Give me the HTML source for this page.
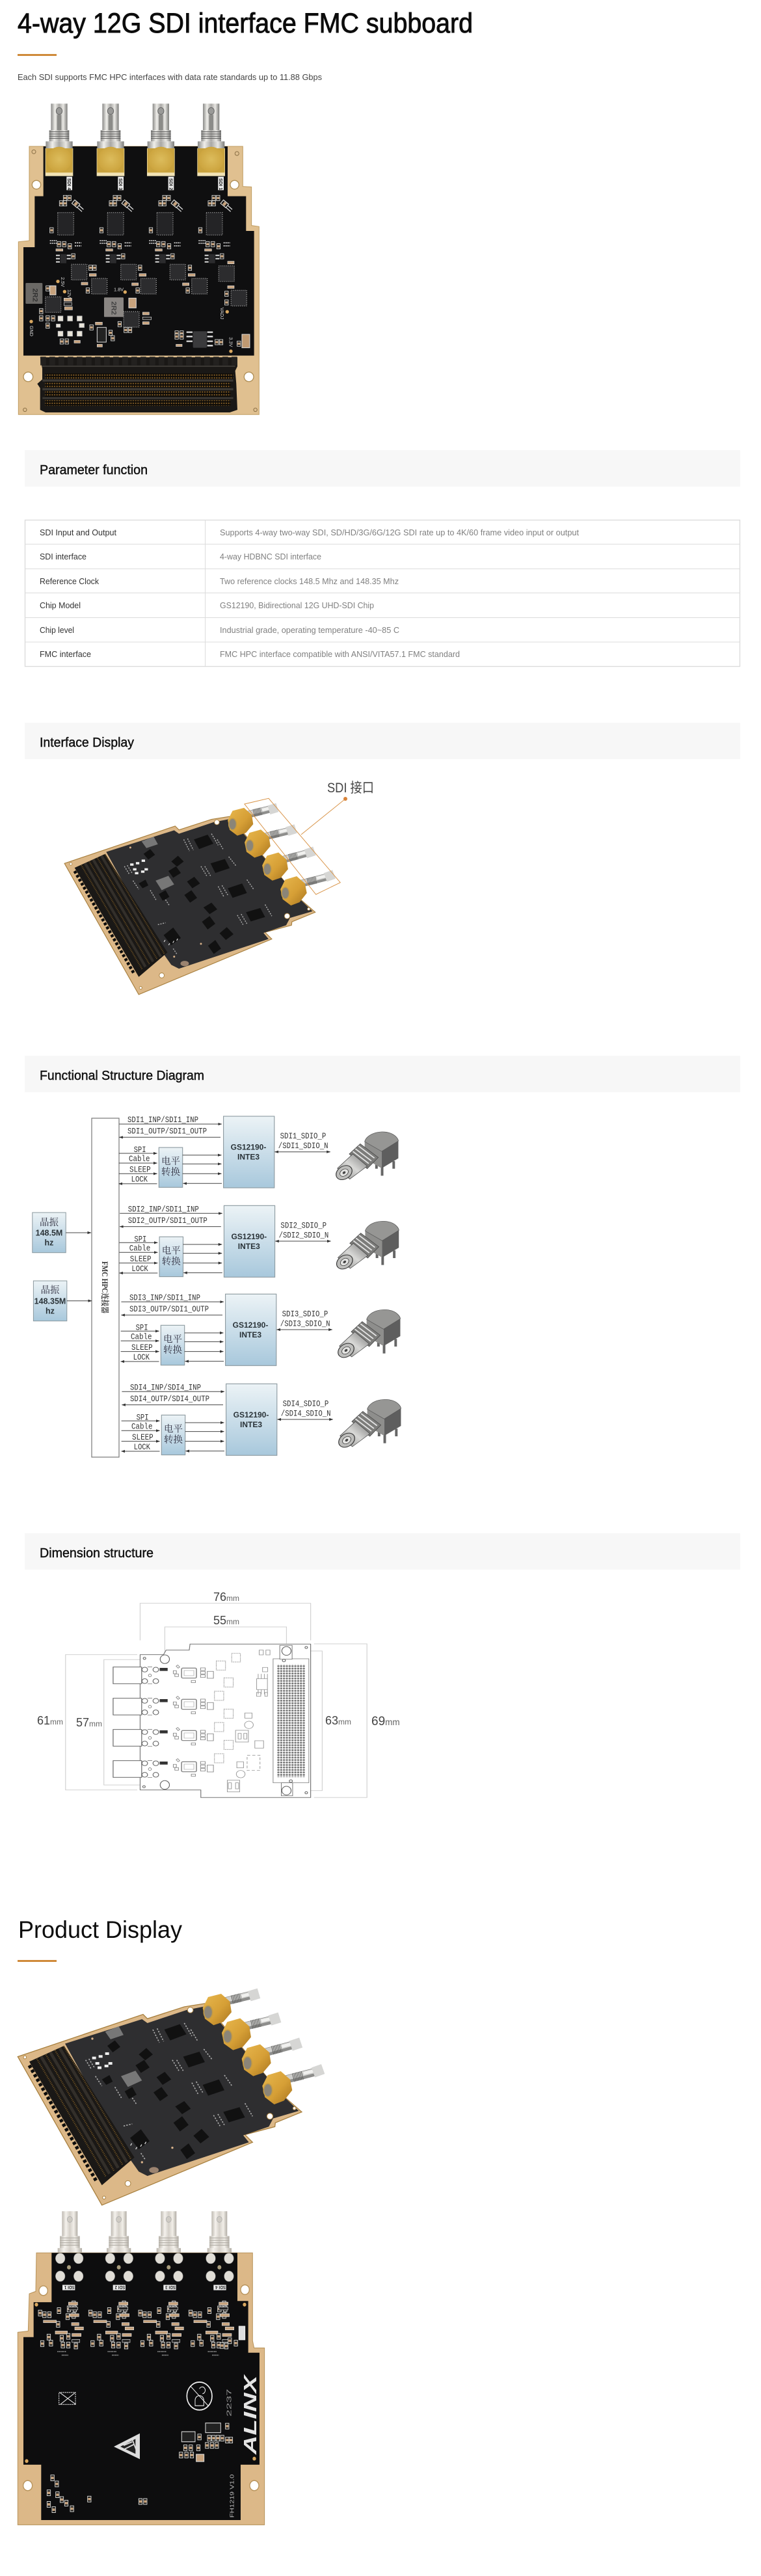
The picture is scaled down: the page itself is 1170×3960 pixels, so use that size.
<!DOCTYPE html>
<html lang="en">
<head>
<meta charset="utf-8">
<title>4-way 12G SDI interface FMC subboard</title>
<style>
html,body{margin:0;padding:0;background:#fff}
svg{display:block}
text{font-family:"Liberation Sans","Noto Sans CJK SC",sans-serif}
.h{font-size:20px;fill:#111;stroke:#111;stroke-width:.45px}
.k{font-size:13px;fill:#333}
.v{font-size:13px;fill:#808080}
.m{font-family:"Liberation Mono","Noto Sans CJK SC",monospace;font-size:13px;fill:#333}
.c{font-family:"Noto Serif CJK SC","Liberation Serif",serif;font-size:14.5px;fill:#334;text-anchor:middle}
.b{font-size:12px;font-weight:700;fill:#2a3338;text-anchor:middle}
.d{font-size:18px;fill:#444}
.d tspan{font-size:12px;fill:#666}
.s{fill:#eee;font-size:22px}
</style>
</head>
<body>
<svg xmlns="http://www.w3.org/2000/svg" width="1170" height="3960" viewBox="0 0 1170 3960">
<defs>
<linearGradient id="bar" x1="0" x2="1" y1="0" y2="0"><stop offset="0" stop-color="#8a8a88"/><stop offset=".25" stop-color="#efeeea"/><stop offset=".5" stop-color="#a9a8a5"/><stop offset=".75" stop-color="#e8e7e3"/><stop offset="1" stop-color="#7c7c7a"/></linearGradient>
<linearGradient id="bar2" x1="0" x2="1" y1="0" y2="0"><stop offset="0" stop-color="#bdb8b0"/><stop offset=".25" stop-color="#f5f2ed"/><stop offset=".5" stop-color="#d4cfc8"/><stop offset=".75" stop-color="#f2efe9"/><stop offset="1" stop-color="#b2ada5"/></linearGradient>
<linearGradient id="bg" x1="0" x2="1" y1="1" y2="0"><stop offset="0" stop-color="#8c8c8a"/><stop offset=".5" stop-color="#d8d8d6"/><stop offset="1" stop-color="#777"/></linearGradient>
<linearGradient id="blue" x1="0" x2="0" y1="0" y2="1"><stop offset="0" stop-color="#ecf3f6"/><stop offset="1" stop-color="#a8c8dc"/></linearGradient>
<radialGradient id="gold"><stop offset="0" stop-color="#dcbc5c"/><stop offset="1" stop-color="#cda53f"/></radialGradient>
<linearGradient id="nut" x1="0" x2="1" y1="0" y2="1"><stop offset="0" stop-color="#e8b84e"/><stop offset=".55" stop-color="#d69f36"/><stop offset="1" stop-color="#a8751f"/></linearGradient>
<pattern id="pins" width="11" height="13" patternUnits="userSpaceOnUse"><rect width="11" height="13" fill="#100d09"/><circle cx="5" cy="6" r="3" fill="#94692a"/></pattern>
<pattern id="teeth" width="42" height="40" patternUnits="userSpaceOnUse"><rect x="0" y="0" width="26" height="40" fill="#242220"/></pattern>
<pattern id="dots" width="11" height="11.4" patternUnits="userSpaceOnUse"><ellipse cx="5.5" cy="5.7" rx="4.4" ry="4.2" fill="#777"/></pattern>
<marker id="ar" markerWidth="6" markerHeight="5" refX="5.5" refY="2.5" orient="auto-start-reverse" markerUnits="userSpaceOnUse"><path d="M0,0.4L6,2.5L0,4.6z" fill="#333"/></marker>

<g id="p"><rect x="-8" y="-12" width="16" height="24" fill="#1a1a1a" stroke="#e4e4e0" stroke-width="2.5"/><rect x="-6" y="-5" width="12" height="10" fill="#c7a27c"/></g>
<g id="q"><rect x="-36" y="-36" width="72" height="72" rx="3" fill="#2c2c2e"/><rect x="-36" y="-36" width="72" height="72" fill="none" stroke="#aaa" stroke-width="4" stroke-dasharray="3 6"/></g>
<g id="tq"><rect x="-37" y="-52" width="74" height="104" rx="3" fill="#242426"/><rect x="-37" y="-52" width="74" height="104" fill="none" stroke="#aaa" stroke-width="4" stroke-dasharray="3 6"/></g>

<g id="tc">
<use href="#p" x="222" y="488"/><use href="#p" x="240" y="488"/><use href="#p" x="240" y="463"/><use href="#p" x="260" y="463"/>
<use href="#p" transform="translate(290,490) rotate(-50) scale(1.3)"/>
<path d="M305,498l20,18M298,508l20,18" stroke="#ddd" stroke-width="4"/>
<use href="#tq" x="243" y="582"/>
<use href="#p" x="178" y="612" transform="translate(0,0)"/>
<path d="M170,660h32M170,672h32M285,670h30M285,684h30" stroke="#ddd" stroke-width="5" stroke-dasharray="6 3"/>
<use href="#p" x="212" y="676"/><use href="#p" x="236" y="676"/><use href="#p" x="262" y="686"/>
<rect x="198" y="698" width="32" height="10" fill="#c7a27c" stroke="#ddd" stroke-width="2"/>
<rect x="218" y="722" width="28" height="42" fill="#2c2c2e"/>
<path d="M198,728h18M198,743h18M198,758h18M248,728h18M248,743h18" stroke="#ddd" stroke-width="6"/>
<use href="#p" x="278" y="732"/>
</g>

<g id="bcn">
<rect x="-38" y="28" width="76" height="125" fill="url(#bar)"/>
<ellipse cx="0" cy="62" rx="14" ry="16" fill="#9a9a98" stroke="#666" stroke-width="3"/>
<rect x="-10" y="80" width="20" height="70" fill="#8b8b88"/>
<rect x="-46" y="150" width="92" height="52" fill="url(#bar)"/>
<path d="M-46,158h92M-46,168h92M-46,178h92M-46,188h92" stroke="#555" stroke-width="3"/>
<rect x="-62" y="202" width="124" height="34" fill="url(#bar)"/>
<rect x="-64" y="234" width="128" height="128" fill="#f2e3b4"/>
<rect x="-62" y="234" width="124" height="112" fill="#c8a23e"/>
<circle cx="0" cy="285" r="58" fill="url(#gold)"/>
</g>

<g id="dch">
<rect x="364" y="728" width="111" height="77" fill="#fff" stroke="#666" stroke-width="3"/>
<g fill="#fff" stroke="#666" stroke-width="3"><circle cx="487" cy="740" r="11"/><circle cx="530" cy="740" r="11"/><circle cx="487" cy="793" r="11"/><circle cx="530" cy="793" r="11"/><circle cx="507" cy="767" r="6" stroke-width="2"/></g>
<path d="M498,728h18M498,805h18" stroke="#666" stroke-width="2"/>
<rect x="545" y="732" width="31" height="14" fill="#333"/>
<g fill="none" stroke="#888" stroke-width="2.5">
<rect x="630" y="733" width="58" height="46" rx="5" stroke-width="4"/><rect x="640" y="744" width="38" height="24" stroke="#bbb"/>
<rect x="598" y="745" width="12" height="14"/><rect x="604" y="760" width="14" height="12"/>
<rect x="612" y="720" width="8" height="12" transform="rotate(-40 616 726)"/>
<rect x="704" y="732" width="18" height="12"/><rect x="704" y="748" width="18" height="12"/><rect x="704" y="764" width="18" height="12"/>
<rect x="730" y="748" width="24" height="32"/>
<rect x="668" y="790" width="16" height="10"/>
</g>
</g>

<g id="dc">
<g fill="url(#blue)" stroke="#8a989e" stroke-width="1.1">
<rect x="343.6" y="1716" width="78.2" height="110"/>
<rect x="244.3" y="1764" width="36.4" height="61.3"/>
</g>
<g stroke="#444" stroke-width="1" fill="none">
<path d="M183.4,1728H340.8" marker-end="url(#ar)"/>
<path d="M339,1748.3H183.4" marker-end="url(#ar)"/>
<path d="M182.6,1773H241.5" marker-end="url(#ar)"/>
<path d="M182.6,1788H241.5" marker-end="url(#ar)"/>
<path d="M182.6,1804.3H241.5" marker-end="url(#ar)"/>
<path d="M241.5,1819.7H182.6" marker-end="url(#ar)"/>
<path d="M280.7,1775.7H340.4" marker-end="url(#ar)"/>
<path d="M280.7,1789.3H340.4" marker-end="url(#ar)"/>
<path d="M280.7,1804.3H340.4" marker-end="url(#ar)"/>
<path d="M341,1819.3H281.5" marker-end="url(#ar)"/>
<path d="M422.5,1770.7H507.7" marker-start="url(#ar)" marker-end="url(#ar)"/>
</g>
<g transform="translate(30,1620) scale(.3954,.3333)">
<path d="M1410,520V562M1455,495V530M1388,495V530" stroke="#666" stroke-width="10"/>
<polygon points="1342,405 1408,450 1408,528 1342,482" fill="#8e8e8c"/>
<polygon points="1408,450 1473,402 1473,482 1408,528" fill="#5e5e5e"/>
<path d="M1342,405C1350,370 1400,350 1440,365C1465,375 1473,395 1473,402L1408,450z" fill="#969694" stroke="#555" stroke-width="2"/>
<polygon points="1325,415 1395,478 1352,530 1282,462" fill="#7c7c7a" stroke="#444" stroke-width="2"/>
<path d="M1318,425l62,56M1306,438l62,56M1296,450l62,56" stroke="#e4e4e4" stroke-width="5"/>
<polygon points="1296,462 1352,518 1284,578 1236,528" fill="url(#bg)" stroke="#444" stroke-width="2"/>
<ellipse cx="1262" cy="548" rx="27" ry="36" transform="rotate(40 1262 548)" fill="#bdbdbb" stroke="#333" stroke-width="3"/>
<ellipse cx="1262" cy="548" rx="14" ry="19" transform="rotate(40 1262 548)" fill="#e4e4e2" stroke="#333" stroke-width="2"/>
<ellipse cx="1262" cy="548" rx="5" ry="7" transform="rotate(40 1262 548)" fill="#444"/>
</g>
</g>

<g id="iso">
<polygon points="82,845 660,650 680,670 850,615 945,600 1300,1020 1392,1100 1270,1150 1268,1168 1130,1205 1165,1240 470,1530" fill="#dcb888" stroke="#a8803f" stroke-width="4"/>
<polygon points="300,785 655,672 680,690 860,630 950,612 1310,1030 1378,1095 1260,1130 1240,1168 1122,1208 1148,1240 680,1395 640,1375 580,1290" fill="#2e2e30"/>
<polygon points="135,868 295,795 620,1310 470,1438" fill="#1a1816"/>
<g fill="none" stroke-linecap="butt">
<path d="M190,845L505,1385M232,825L545,1358M275,805L585,1332" stroke="#332f2a" stroke-width="14"/>
<path d="M170,855L488,1398M212,836L526,1372M254,816L566,1345M294,797L604,1318" stroke="#7a5a26" stroke-width="7" stroke-dasharray="3 5"/>
<path d="M135,885L445,1420" stroke="#0c0c0c" stroke-width="16" stroke-dasharray="14 10"/>
</g>
<g fill="#111">
<polygon id="i1" points="758,720 830,695 860,742 785,770"/>
<polygon points="845,845 920,822 945,870 870,895"/>
<polygon points="935,975 1010,950 1035,1000 960,1025"/>
<polygon points="1030,1100 1105,1078 1130,1125 1055,1148"/>
<polygon points="640,835 675,805 705,835 670,862"/>
<polygon points="625,885 665,860 690,895 650,920"/>
<polygon points="722,940 760,915 790,950 750,975"/>
<polygon points="708,1010 745,985 775,1025 738,1050"/>
<polygon points="808,1075 850,1050 880,1085 840,1110"/>
<polygon points="800,1150 840,1120 870,1160 830,1190"/>
<polygon points="892,1210 930,1178 965,1215 925,1245"/>
<polygon points="832,1275 870,1245 900,1290 862,1318"/>
<polygon points="600,1220 650,1180 690,1235 640,1272"/>
<polygon points="495,795 530,770 555,800 520,825"/>
<polygon points="575,1005 610,985 630,1020 595,1040"/>
<polygon points="470,950 505,930 520,960 490,975"/>
</g>
<polygon points="485,730 548,705 570,745 510,765" fill="#777"/>
<polygon points="558,935 625,910 655,955 590,985" fill="#777"/>
<g fill="none" stroke="#aaa" stroke-width="5" stroke-dasharray="7 6">
<path d="M705,720l30,60M725,715l30,60M850,690l35,60M880,720l30,50"/>
<path d="M795,860l30,50M815,860l30,50M940,810l40,50"/>
<path d="M885,965l30,55M905,960l30,50M1035,930l35,50"/>
<path d="M985,1115l30,50M1005,1110l30,50M1130,1060l35,60"/>
<path d="M395,860l25,40M410,855l25,40M440,935l30,45M530,985l30,50M610,1035l20,30M570,1165l40,-10M650,1290l20,30"/>
</g>
<g fill="#eee"><rect x="425" y="845" width="18" height="12"/><rect x="455" y="838" width="18" height="12"/><rect x="485" y="825" width="18" height="12"/><rect x="440" y="870" width="18" height="12"/><rect x="500" y="870" width="18" height="12"/><rect x="450" y="890" width="18" height="12"/><rect x="482" y="882" width="18" height="12"/></g>
<g stroke="#ddd" stroke-width="4"><path d="M608,1245l-6,10M632,1262l-6,10M654,1250l-6,10M674,1238l-6,10"/></g>
<ellipse cx="710" cy="1368" rx="22" ry="14" fill="#9c8470"/>
<g fill="#d9b28a"><circle cx="426" cy="762" r="5"/><circle cx="795" cy="1265" r="5"/><circle cx="655" cy="1332" r="5"/></g>
<g fill="#fff" stroke="#a8803f" stroke-width="3"><circle cx="878" cy="630" r="13"/><circle cx="1245" cy="1120" r="14"/><circle cx="590" cy="1430" r="13"/><circle cx="115" cy="848" r="7"/><circle cx="480" cy="1495" r="7"/><circle cx="1358" cy="1083" r="7"/></g>
<g fill="none" stroke-linecap="butt">
<path d="M1040,590L1178,556M1130,705L1274,670M1225,825L1372,785M1320,950L1475,910" stroke="#8e8e8c" stroke-width="38"/>
<path d="M1040,584L1178,550M1130,699L1274,664M1225,819L1372,779M1320,944L1475,904" stroke="#cfcfcd" stroke-width="22"/>
<path d="M1115,566L1178,550M1205,680L1274,664M1300,798L1372,779M1400,922L1475,904" stroke="#f1f1ef" stroke-width="14"/>
<path d="M1070,582L1112,572M1160,697L1202,687M1256,816L1298,805M1352,942L1396,931" stroke="#5c5c5a" stroke-width="40" stroke-dasharray="3 4"/>
<path d="M1150,566L1194,553M1245,678L1290,664M1342,795L1388,780M1445,918L1490,902" stroke="#d6d6d4" stroke-width="48"/>
</g>
<g fill="url(#nut)">
<polygon points="935,620 960,570 1020,555 1060,590 1068,640 1030,685 985,700 945,670"/>
<polygon points="1023,735 1048,685 1108,668 1150,705 1158,755 1120,800 1075,815 1033,785"/>
<polygon points="1115,855 1140,805 1200,788 1242,825 1250,875 1212,920 1168,935 1126,905"/>
<polygon points="1210,980 1235,930 1295,912 1338,950 1348,1000 1310,1048 1265,1065 1222,1032"/>
</g>
<g fill="#8b8578" stroke="#c49b45" stroke-width="5">
<ellipse cx="960" cy="640" rx="20" ry="30"/><ellipse cx="1050" cy="752" rx="20" ry="30"/><ellipse cx="1142" cy="875" rx="20" ry="30"/><ellipse cx="1236" cy="1000" rx="20" ry="30"/>
</g>
</g>

<g id="bc">
<use href="#p" x="340" y="437" transform="translate(0,0)"/><use href="#p" x="318" y="458"/><use href="#p" x="345" y="458"/><use href="#p" x="340" y="485"/>
<rect x="316" y="430" width="42" height="12" fill="#c7a27c" stroke="#ddd" stroke-width="2"/>
<rect x="316" y="450" width="42" height="12" fill="#222" stroke="#ddd" stroke-width="2"/>
<rect x="322" y="478" width="42" height="12" fill="#c7a27c" stroke="#ddd" stroke-width="2"/>
<use href="#p" x="272" y="465"/><use href="#p" x="228" y="482"/><use href="#p" x="205" y="482"/><use href="#p" x="185" y="475"/>
<rect x="200" y="505" width="60" height="10" fill="#c7a27c" stroke="#ddd" stroke-width="2"/>
<use href="#p" x="312" y="490"/><use href="#p" x="268" y="522"/>
<rect x="330" y="515" width="34" height="12" fill="#c7a27c" stroke="#ddd" stroke-width="2"/>
<rect x="345" y="533" width="40" height="12" fill="#c7a27c" stroke="#ddd" stroke-width="2"/>
<rect x="255" y="550" width="56" height="12" fill="#c7a27c" stroke="#ddd" stroke-width="2"/>
<use href="#p" x="225" y="575"/><use href="#p" x="235" y="600"/><use href="#p" x="315" y="572"/><use href="#p" x="285" y="580"/>
<rect x="332" y="560" width="42" height="12" fill="#c7a27c" stroke="#ddd" stroke-width="2"/>
<rect x="332" y="585" width="36" height="12" fill="#222" stroke="#ddd" stroke-width="2"/>
<use href="#p" x="350" y="612"/><use href="#p" x="290" y="608"/><use href="#p" x="315" y="608"/><use href="#p" x="195" y="602"/>
<path d="M265,635h40M285,650h30" stroke="#bbb" stroke-width="4" stroke-dasharray="4 3"/>
</g>
<g id="bn">
<rect x="-36" y="52" width="72" height="105" fill="url(#bar2)"/>
<circle cx="0" cy="86" r="12" fill="#cfcbc4" stroke="#aaa" stroke-width="2"/>
<rect x="-46" y="155" width="92" height="50" fill="url(#bar2)"/>
<path d="M-46,163h92M-46,173h92M-46,183h92M-46,193h92" stroke="#b0aca4" stroke-width="3"/>
<rect x="-56" y="205" width="112" height="18" fill="url(#bar2)"/>
</g>
<g id="bp"><g fill="#e0ddd6" stroke="#888" stroke-width="1.5"><ellipse cx="-44" cy="248" rx="22" ry="22"/><ellipse cx="40" cy="248" rx="22" ry="22"/><ellipse cx="-44" cy="322" rx="22" ry="22"/><ellipse cx="40" cy="322" rx="22" ry="22"/></g><ellipse cx="-4" cy="285" rx="9" ry="9" fill="#a89c7c"/></g>
</defs>

<rect width="1170" height="3960" fill="#fff"/>

<!-- Header -->
<text x="27" y="50" font-size="42.5" fill="#0c0c0c" stroke="#0c0c0c" stroke-width=".9" textLength="700" lengthAdjust="spacingAndGlyphs">4-way 12G SDI interface FMC subboard</text>
<rect x="27" y="83" width="60" height="3" fill="#cf8a3a"/>
<text x="27" y="123" font-size="13" fill="#444" textLength="468" lengthAdjust="spacingAndGlyphs">Each SDI supports FMC HPC interfaces with data rate standards up to 11.88 Gbps</text>

<!-- Top board -->
<g transform="translate(20,150) scale(.3333)">
<polygon points="75,225 1060,225 1060,410 1100,412 1100,590 1135,595 1135,1462 25,1462 25,665 75,660" fill="#e0c090" stroke="#c09d62" stroke-width="3"/>
<polygon points="140,225 990,225 990,455 1075,455 1075,615 1112,615 1112,1190 48,1190 48,690 100,690 100,455 140,455" fill="#0f0f10"/>
<g fill="#fff" stroke="#b08f55" stroke-width="4"><circle cx="108" cy="402" r="20"/><circle cx="1022" cy="402" r="20"/><circle cx="70" cy="1288" r="22"/><circle cx="1088" cy="1288" r="22"/></g>
<g fill="none" stroke="#8a6f45" stroke-width="3"><circle cx="96" cy="250" r="9"/><circle cx="1033" cy="258" r="9"/><circle cx="55" cy="1440" r="8"/><circle cx="1118" cy="1440" r="8"/></g>
<use href="#bcn" x="213"/><use href="#bcn" x="450"/><use href="#bcn" x="682"/><use href="#bcn" x="914"/>
<g><rect x="247" y="365" width="26" height="62" fill="#eee"/><rect x="484" y="365" width="26" height="62" fill="#eee"/><rect x="716" y="365" width="26" height="62" fill="#eee"/><rect x="946" y="365" width="26" height="62" fill="#eee"/></g>
<g font-size="22" font-weight="700" fill="#111"><text transform="translate(252,372) rotate(90)">SDI 4</text><text transform="translate(489,372) rotate(90)">SDI 3</text><text transform="translate(721,372) rotate(90)">SDI 2</text><text transform="translate(951,372) rotate(90)">SDI 1</text></g>
<use href="#tc"/><use href="#tc" x="230"/><use href="#tc" x="458"/><use href="#tc" x="686"/>
<use href="#q" x="305" y="805"/><use href="#q" x="533" y="805"/><use href="#q" x="760" y="805"/><use href="#q" x="985" y="812"/>
<use href="#q" x="398" y="870"/><use href="#q" x="625" y="870"/><use href="#q" x="860" y="870"/><use href="#q" x="1042" y="925"/>
<use href="#q" x="185" y="955"/><use href="#q" x="546" y="1023"/>
<use href="#p" x="358" y="785"/><use href="#p" x="376" y="785"/><use href="#p" x="586" y="785"/><use href="#p" x="816" y="785"/>
<rect x="352" y="812" width="32" height="12" fill="#c7a27c" stroke="#ddd" stroke-width="2"/><rect x="582" y="812" width="32" height="12" fill="#c7a27c" stroke="#ddd" stroke-width="2"/><rect x="808" y="812" width="32" height="12" fill="#c7a27c" stroke="#ddd" stroke-width="2"/>
<rect x="315" y="852" width="30" height="12" fill="#c7a27c" stroke="#ddd" stroke-width="2"/><rect x="548" y="855" width="30" height="12" fill="#c7a27c" stroke="#ddd" stroke-width="2"/><rect x="782" y="855" width="30" height="12" fill="#c7a27c" stroke="#ddd" stroke-width="2"/>
<use href="#p" x="345" y="890"/><use href="#p" x="575" y="890"/><use href="#p" x="806" y="890"/><use href="#p" x="985" y="905"/><use href="#p" x="985" y="945"/>
<rect x="990" y="755" width="30" height="12" fill="#c7a27c" stroke="#ddd" stroke-width="2"/><rect x="990" y="868" width="30" height="12" fill="#c7a27c" stroke="#ddd" stroke-width="2"/>
<rect x="58" y="855" width="78" height="96" rx="4" fill="#6b6966"/><rect x="420" y="922" width="90" height="90" rx="4" fill="#8a8683"/>
<text transform="translate(92,880) rotate(90)" font-size="34" font-weight="700" fill="#333">2R2</text>
<text transform="translate(455,940) rotate(90)" font-size="34" font-weight="700" fill="#444">2R2</text>
<use href="#p" x="160" y="880"/><rect x="170" y="868" width="28" height="42" fill="#c7a27c" stroke="#ddd" stroke-width="3"/>
<rect x="534" y="925" width="34" height="45" fill="#c7a27c" stroke="#ddd" stroke-width="3"/>
<rect x="235" y="925" width="36" height="14" fill="#c7a27c" stroke="#ddd" stroke-width="2"/><rect x="235" y="945" width="36" height="14" fill="#222" stroke="#ddd" stroke-width="2"/><rect x="238" y="965" width="36" height="14" fill="#c7a27c" stroke="#ddd" stroke-width="2"/>
<use href="#p" x="130" y="985"/><use href="#p" x="130" y="1018"/><use href="#p" x="160" y="1018"/><use href="#p" x="185" y="1018"/><use href="#p" x="160" y="1052"/>
<g fill="#e9e4d8" stroke="#ccc" stroke-width="3"><rect x="208" y="1008" width="22" height="22"/><rect x="252" y="1008" width="22" height="22"/><rect x="296" y="1008" width="22" height="22"/><rect x="306" y="1042" width="22" height="18"/><rect x="208" y="1078" width="22" height="22"/><rect x="252" y="1078" width="22" height="22"/><rect x="296" y="1078" width="22" height="22"/><rect x="200" y="1045" width="18" height="14"/></g>
<use href="#p" x="225" y="1125"/><use href="#p" x="248" y="1125"/><rect x="282" y="1120" width="28" height="12" fill="#c7a27c" stroke="#ddd" stroke-width="2"/>
<rect x="388" y="1060" width="42" height="68" fill="#222" stroke="#ddd" stroke-width="3"/>
<rect x="380" y="1036" width="32" height="12" fill="#c7a27c" stroke="#ddd" stroke-width="2"/><rect x="388" y="1138" width="24" height="12" fill="#c7a27c" stroke="#ddd" stroke-width="2"/>
<use href="#p" x="450" y="1085"/><use href="#p" x="460" y="1110"/><use href="#p" x="362" y="1060"/>
<use href="#p" x="492" y="1045"/><use href="#p" x="520" y="1072"/><use href="#p" x="540" y="1072"/>
<rect x="598" y="990" width="30" height="12" fill="#c7a27c" stroke="#ddd" stroke-width="2"/><rect x="598" y="1012" width="40" height="12" fill="#222" stroke="#ddd" stroke-width="2"/><rect x="598" y="1034" width="30" height="12" fill="#c7a27c" stroke="#ddd" stroke-width="2"/>
<rect x="830" y="1078" width="64" height="76" rx="4" fill="#3a3a3c"/>
<path d="M800,1082h28M800,1102h28M800,1124h28M896,1082h26M896,1102h26M896,1124h26M896,1144h26" stroke="#ddd" stroke-width="7"/>
<use href="#p" x="755" y="1088"/><use href="#p" x="778" y="1088"/><use href="#p" x="755" y="1102"/><use href="#p" x="778" y="1102"/>
<rect x="752" y="1138" width="28" height="10" fill="#c7a27c" stroke="#ddd" stroke-width="2"/>
<use href="#p" x="940" y="1128"/><use href="#p" x="960" y="1128"/>
<use href="#p" x="1042" y="1135"/><rect x="1056" y="1092" width="36" height="62" fill="#c09a72" stroke="#ddd" stroke-width="3"/>
<g fill="#d9a860"><circle cx="207" cy="848" r="8"/><circle cx="238" cy="895" r="8"/><circle cx="517" cy="897" r="8"/><circle cx="988" cy="988" r="8"/><circle cx="84" cy="1033" r="8"/><circle cx="1005" cy="1170" r="8"/></g>
<g font-size="22" fill="#ddd"><text x="465" y="893">1.8V</text><text transform="translate(222,828) rotate(90)">2.5V</text><text transform="translate(252,885) rotate(90)">12V</text><text transform="translate(957,968) rotate(90)">VADJ</text><text transform="translate(78,1052) rotate(90)">GND</text><text transform="translate(998,1105) rotate(90)">3.3V</text></g>
<!-- FMC connector -->
<polygon points="125,1198 1035,1198 1035,1240 1025,1260 1030,1320 1035,1440 1000,1452 150,1452 125,1440 125,1340 112,1320 135,1300 135,1250" fill="#1a1816"/>
<rect x="125" y="1195" width="910" height="40" fill="url(#teeth)" opacity=".9"/>
<rect x="135" y="1236" width="890" height="6" fill="#3c3935"/>
<rect x="148" y="1272" width="868" height="26" fill="url(#pins)"/>
<rect x="136" y="1300" width="880" height="10" fill="#3c3935"/>
<rect x="148" y="1312" width="856" height="26" fill="url(#pins)"/>
<rect x="136" y="1340" width="880" height="10" fill="#3c3935"/>
<rect x="148" y="1354" width="856" height="26" fill="url(#pins)"/>
<rect x="136" y="1382" width="880" height="8" fill="#3c3935"/>
<rect x="148" y="1396" width="856" height="26" fill="url(#pins)"/>
</g>

<!-- Parameter function -->
<rect x="38" y="692" width="1100" height="56" fill="#f7f7f7"/>
<text class="h" x="61" y="729" textLength="166" lengthAdjust="spacingAndGlyphs">Parameter function</text>
<g fill="none" stroke="#dcdcdc">
<rect x="38.5" y="799.5" width="1099" height="225" stroke-width="1.4"/>
<path d="M38,836.5H1138M38,874.5H1138M38,911.5H1138M38,949.5H1138M38,987H1138M315.5,799V1024"/>
</g>
<text class="k" x="61" y="823" textLength="118" lengthAdjust="spacingAndGlyphs">SDI Input and Output</text>
<text class="v" x="338" y="823" textLength="552" lengthAdjust="spacingAndGlyphs">Supports 4-way two-way SDI, SD/HD/3G/6G/12G SDI rate up to 4K/60 frame video input or output</text>
<text class="k" x="61" y="860" textLength="72" lengthAdjust="spacingAndGlyphs">SDI interface</text>
<text class="v" x="338" y="860" textLength="156" lengthAdjust="spacingAndGlyphs">4-way HDBNC SDI interface</text>
<text class="k" x="61" y="898" textLength="91" lengthAdjust="spacingAndGlyphs">Reference Clock</text>
<text class="v" x="338" y="898" textLength="275" lengthAdjust="spacingAndGlyphs">Two reference clocks 148.5 Mhz and 148.35 Mhz</text>
<text class="k" x="61" y="935" textLength="63" lengthAdjust="spacingAndGlyphs">Chip Model</text>
<text class="v" x="338" y="935" textLength="237" lengthAdjust="spacingAndGlyphs">GS12190, Bidirectional 12G UHD-SDI Chip</text>
<text class="k" x="61" y="973" textLength="53" lengthAdjust="spacingAndGlyphs">Chip level</text>
<text class="v" x="338" y="973" textLength="276" lengthAdjust="spacingAndGlyphs">Industrial grade, operating temperature -40~85 C</text>
<text class="k" x="61" y="1010" textLength="79" lengthAdjust="spacingAndGlyphs">FMC interface</text>
<text class="v" x="338" y="1010" textLength="369" lengthAdjust="spacingAndGlyphs">FMC HPC interface compatible with ANSI/VITA57.1 FMC standard</text>

<!-- Interface Display -->
<rect x="38" y="1111" width="1100" height="56" fill="#f7f7f7"/>
<text class="h" x="61" y="1148" textLength="145" lengthAdjust="spacingAndGlyphs">Interface Display</text>
<use href="#iso" transform="translate(75,1078.6) scale(.2943)"/>
<text x="503" y="1218" font-size="21" fill="#444" textLength="72" lengthAdjust="spacingAndGlyphs">SDI 接口</text>
<polygon points="375.9,1236 413,1227.3 523.2,1356.7 485.7,1375" fill="none" stroke="#d9954a" stroke-width="1"/>
<path d="M531,1228L463,1283" stroke="#d9954a" stroke-width="1" fill="none"/>
<circle cx="531" cy="1228" r="3" fill="#d9843a"/>

<!-- Functional Structure Diagram -->
<rect x="38" y="1623" width="1100" height="56" fill="#f7f7f7"/>
<text class="h" x="61" y="1660" textLength="253" lengthAdjust="spacingAndGlyphs">Functional Structure Diagram</text>

<rect x="141" y="1719" width="42" height="521" fill="#fff" stroke="#777" stroke-width="1.2"/>
<text transform="translate(157,1939) rotate(90)" font-size="12.5" font-weight="700" fill="#333" style="font-family:'Liberation Serif','Noto Serif CJK SC',serif" textLength="80" lengthAdjust="spacingAndGlyphs">FMC HPC连接器</text>

<rect x="49.8" y="1864" width="51.4" height="61.7" fill="url(#blue)" stroke="#8a989e"/>
<text class="c" x="75.5" y="1884">晶振</text>
<text class="b" x="75.5" y="1899.3" style="font-size:12.5px">148.5M</text>
<text class="b" x="75.5" y="1914.7" style="font-size:12.5px">hz</text>
<path d="M101.2,1895H140" stroke="#444" fill="none" marker-end="url(#ar)"/>
<rect x="51.4" y="1969" width="51.4" height="61.7" fill="url(#blue)" stroke="#8a989e"/>
<text class="c" x="77" y="1988">晶振</text>
<text class="b" x="77" y="2004.3" style="font-size:12.5px">148.35M</text>
<text class="b" x="77" y="2019.3" style="font-size:12.5px">hz</text>
<path d="M102.8,1999.7H141" stroke="#444" fill="none" marker-end="url(#ar)"/>

<use href="#dc"/>
<use href="#dc" transform="translate(.8,137.3)"/>
<use href="#dc" transform="translate(3,273.3)"/>
<use href="#dc" transform="translate(4,411.3)"/>

<g>
<text class="m" x="196" y="1725" textLength="109" lengthAdjust="spacingAndGlyphs">SDI1_INP/SDI1_INP</text>
<text class="m" x="196" y="1742.7" textLength="122" lengthAdjust="spacingAndGlyphs">SDI1_OUTP/SDI1_OUTP</text>
<text class="m" x="205.6" y="1771" textLength="19" lengthAdjust="spacingAndGlyphs">SPI</text>
<text class="m" x="198" y="1785" textLength="32.5" lengthAdjust="spacingAndGlyphs">Cable</text>
<text class="m" x="199" y="1801.7" textLength="32.7" lengthAdjust="spacingAndGlyphs">SLEEP</text>
<text class="m" x="201.6" y="1816.7" textLength="25.4" lengthAdjust="spacingAndGlyphs">LOCK</text>
<text class="c" x="262.5" y="1790">电平</text><text class="c" x="262.5" y="1806.7">转换</text>
<text class="b" x="382" y="1767.7">GS12190-</text><text class="b" x="382" y="1782.7">INTE3</text>
<text class="m" x="430.6" y="1750" textLength="70.7" lengthAdjust="spacingAndGlyphs">SDI1_SDIO_P</text>
<text class="m" x="427.8" y="1765" textLength="76.7" lengthAdjust="spacingAndGlyphs">/SDI1_SDIO_N</text>
</g>
<g transform="translate(.8,137.3)">
<text class="m" x="196" y="1725" textLength="109" lengthAdjust="spacingAndGlyphs">SDI2_INP/SDI1_INP</text>
<text class="m" x="196" y="1742.7" textLength="122" lengthAdjust="spacingAndGlyphs">SDI2_OUTP/SDI1_OUTP</text>
<text class="m" x="205.6" y="1771" textLength="19" lengthAdjust="spacingAndGlyphs">SPI</text>
<text class="m" x="198" y="1785" textLength="32.5" lengthAdjust="spacingAndGlyphs">Cable</text>
<text class="m" x="199" y="1801.7" textLength="32.7" lengthAdjust="spacingAndGlyphs">SLEEP</text>
<text class="m" x="201.6" y="1816.7" textLength="25.4" lengthAdjust="spacingAndGlyphs">LOCK</text>
<text class="c" x="262.5" y="1790">电平</text><text class="c" x="262.5" y="1806.7">转换</text>
<text class="b" x="382" y="1767.7">GS12190-</text><text class="b" x="382" y="1782.7">INTE3</text>
<text class="m" x="430.6" y="1750" textLength="70.7" lengthAdjust="spacingAndGlyphs">SDI2_SDIO_P</text>
<text class="m" x="427.8" y="1765" textLength="76.7" lengthAdjust="spacingAndGlyphs">/SDI2_SDIO_N</text>
</g>
<g transform="translate(3,273.3)">
<text class="m" x="196" y="1725" textLength="109" lengthAdjust="spacingAndGlyphs">SDI3_INP/SDI1_INP</text>
<text class="m" x="196" y="1742.7" textLength="122" lengthAdjust="spacingAndGlyphs">SDI3_OUTP/SDI1_OUTP</text>
<text class="m" x="205.6" y="1771" textLength="19" lengthAdjust="spacingAndGlyphs">SPI</text>
<text class="m" x="198" y="1785" textLength="32.5" lengthAdjust="spacingAndGlyphs">Cable</text>
<text class="m" x="199" y="1801.7" textLength="32.7" lengthAdjust="spacingAndGlyphs">SLEEP</text>
<text class="m" x="201.6" y="1816.7" textLength="25.4" lengthAdjust="spacingAndGlyphs">LOCK</text>
<text class="c" x="262.5" y="1790">电平</text><text class="c" x="262.5" y="1806.7">转换</text>
<text class="b" x="382" y="1767.7">GS12190-</text><text class="b" x="382" y="1782.7">INTE3</text>
<text class="m" x="430.6" y="1750" textLength="70.7" lengthAdjust="spacingAndGlyphs">SDI3_SDIO_P</text>
<text class="m" x="427.8" y="1765" textLength="76.7" lengthAdjust="spacingAndGlyphs">/SDI3_SDIO_N</text>
</g>
<g transform="translate(4,411.3)">
<text class="m" x="196" y="1725" textLength="109" lengthAdjust="spacingAndGlyphs">SDI4_INP/SDI4_INP</text>
<text class="m" x="196" y="1742.7" textLength="122" lengthAdjust="spacingAndGlyphs">SDI4_OUTP/SDI4_OUTP</text>
<text class="m" x="205.6" y="1771" textLength="19" lengthAdjust="spacingAndGlyphs">SPI</text>
<text class="m" x="198" y="1785" textLength="32.5" lengthAdjust="spacingAndGlyphs">Cable</text>
<text class="m" x="199" y="1801.7" textLength="32.7" lengthAdjust="spacingAndGlyphs">SLEEP</text>
<text class="m" x="201.6" y="1816.7" textLength="25.4" lengthAdjust="spacingAndGlyphs">LOCK</text>
<text class="c" x="262.5" y="1790">电平</text><text class="c" x="262.5" y="1806.7">转换</text>
<text class="b" x="382" y="1767.7">GS12190-</text><text class="b" x="382" y="1782.7">INTE3</text>
<text class="m" x="430.6" y="1750" textLength="70.7" lengthAdjust="spacingAndGlyphs">SDI4_SDIO_P</text>
<text class="m" x="427.8" y="1765" textLength="76.7" lengthAdjust="spacingAndGlyphs">/SDI4_SDIO_N</text>
</g>

<!-- Dimension structure -->
<rect x="38" y="2357" width="1100" height="56" fill="#f7f7f7"/>
<text class="h" x="61" y="2394" textLength="175" lengthAdjust="spacingAndGlyphs">Dimension structure</text>
<g transform="translate(30,2320) scale(.3954,.3333)">
<g fill="none" stroke="#d2d2d2" stroke-width="3">
<path d="M469,605V434H1132V605"/>
<path d="M565,680V543H1038V620"/>
<path d="M458,671H179V1295H458"/>
<path d="M545,694H328V1272H545"/>
<path d="M1060,654H1177V1298H1060"/>
<path d="M1145,621H1351V1330H1145"/>
</g>
<path d="M469,671H560L570,650H660L663,622H1132V1330H705V1295H469z" fill="#fff" stroke="#777" stroke-width="3"/>
<use href="#dch"/><use href="#dch" y="144"/><use href="#dch" y="288"/><use href="#dch" y="432"/>
<rect x="986" y="690" width="139" height="572" fill="#fff" stroke="#888" stroke-width="2.5"/>
<rect x="1002" y="716" width="108" height="520" fill="url(#dots)"/>
<rect x="1012" y="628" width="48" height="64" fill="#fff" stroke="#777" stroke-width="2.5"/>
<rect x="1018" y="1262" width="44" height="60" fill="#fff" stroke="#777" stroke-width="2.5"/>
<g fill="#fff" stroke="#666" stroke-width="3"><ellipse cx="565" cy="692" rx="18" ry="20"/><ellipse cx="565" cy="1272" rx="18" ry="20"/><ellipse cx="1038" cy="654" rx="18" ry="20"/><ellipse cx="1038" cy="1298" rx="18" ry="20"/><circle cx="486" cy="688" r="5"/><circle cx="484" cy="1280" r="5"/><circle cx="1115" cy="638" r="5"/><circle cx="1115" cy="1308" r="5"/><circle cx="1028" cy="698" r="6"/><circle cx="1055" cy="1254" r="6"/></g>
<g fill="none" stroke="#999" stroke-width="2.5">
<rect x="825" y="665" width="34" height="40" stroke-dasharray="5 2"/><rect x="765" y="700" width="36" height="42" stroke-dasharray="5 2"/><rect x="795" y="778" width="36" height="42" stroke-dasharray="5 2"/><rect x="758" y="840" width="36" height="42" stroke-dasharray="5 2"/>
<rect x="795" y="922" width="36" height="42" stroke-dasharray="5 2"/><rect x="758" y="984" width="36" height="42" stroke-dasharray="5 2"/><rect x="795" y="1066" width="36" height="42" stroke-dasharray="5 2"/><rect x="758" y="1128" width="36" height="42" stroke-dasharray="5 2"/>
<rect x="932" y="650" width="16" height="22"/><rect x="958" y="650" width="16" height="22"/><rect x="945" y="730" width="20" height="20"/>
<rect x="922" y="782" width="42" height="50"/><path d="M928,760v22M940,760v22M952,760v22M964,760v22M928,832v22M940,832v22M952,832v22M964,832v22"/>
<rect x="922" y="845" width="16" height="18"/><rect x="954" y="845" width="10" height="18"/>
<rect x="840" y="1020" width="50" height="54"/><rect x="850" y="1034" width="12" height="26"/><rect x="872" y="1034" width="12" height="26"/>
<circle cx="892" cy="995" r="17"/><rect x="876" y="940" width="28" height="24"/><rect x="915" y="1068" width="34" height="34"/>
<rect x="808" y="1250" width="48" height="54"/><rect x="812" y="1262" width="12" height="28"/><rect x="840" y="1262" width="12" height="28"/>
<circle cx="860" cy="1222" r="17"/><rect x="885" y="1135" width="50" height="70" stroke-dasharray="12 8"/><rect x="845" y="1165" width="26" height="28"/>
</g>
</g>
<text class="d" x="328" y="2461">76<tspan>mm</tspan></text>
<text class="d" x="328" y="2497">55<tspan>mm</tspan></text>
<text class="d" x="57" y="2651">61<tspan>mm</tspan></text>
<text class="d" x="117" y="2654">57<tspan>mm</tspan></text>
<text class="d" x="500" y="2651">63<tspan>mm</tspan></text>
<text class="d" x="571" y="2652" style="font-size:19px">69<tspan style="font-size:13.5px">mm</tspan></text>

<!-- Product Display -->
<text x="28" y="2979" font-size="37" fill="#0c0c0c" textLength="252" lengthAdjust="spacingAndGlyphs">Product Display</text>
<rect x="27" y="3013" width="60" height="3" fill="#cf8a3a"/>
<use href="#iso" transform="translate(0,2880) scale(.3333)"/>

<!-- Bottom board -->
<g transform="translate(0,3380) scale(.3333,.37)">
<polygon points="168,225 1165,225 1165,590 1172,620 1220,620 1220,1355 82,1355 82,555 130,550 135,395 165,385" fill="#dcb888" stroke="#b8935a" stroke-width="3"/>
<polygon points="238,225 1095,225 1095,425 1145,425 1145,640 1197,640 1197,1105 1110,1105 1110,1335 190,1335 190,1105 108,1105 108,575 155,575 155,430 238,430" fill="#0d0d0e"/>
<g fill="#fff" stroke="#b8935a" stroke-width="4"><circle cx="200" cy="382" r="20"/><circle cx="1130" cy="378" r="20"/><circle cx="128" cy="1192" r="21"/><circle cx="1173" cy="1192" r="21"/></g>
<g fill="#d9a860"><circle cx="168" cy="440" r="8"/><circle cx="1128" cy="440" r="8"/><circle cx="123" cy="1090" r="8"/><circle cx="1173" cy="1080" r="8"/></g>
<use href="#bn" x="322"/><use href="#bn" x="548"/><use href="#bn" x="778"/><use href="#bn" x="1012"/>
<use href="#bp" x="322"/><use href="#bp" x="552"/><use href="#bp" x="782"/><use href="#bp" x="1016"/>
<g fill="#eee"><rect x="288" y="358" width="58" height="22"/><rect x="521" y="358" width="58" height="22"/><rect x="754" y="358" width="58" height="22"/><rect x="985" y="358" width="58" height="22"/></g>
<g font-size="19" font-weight="700" fill="#222"><text transform="translate(344,362) rotate(180)">SDI 1</text><text transform="translate(577,362) rotate(180)">SDI 2</text><text transform="translate(810,362) rotate(180)">SDI 3</text><text transform="translate(1041,362) rotate(180)">SDI 4</text></g>
<use href="#bc"/><use href="#bc" x="232"/><use href="#bc" x="462"/><use href="#bc" x="694"/>
<rect x="1102" y="530" width="28" height="56" fill="#ddd" stroke="#eee" stroke-width="3"/>
<use href="#p" x="1024" y="610"/><use href="#p" x="1060" y="590"/><use href="#p" x="1088" y="600"/>
<g fill="none" stroke="#eee" stroke-width="3">
<circle cx="920" cy="820" r="58" stroke-width="5"/><path d="M880,780L960,860"/>
<path d="M920,790a14,14 0 1 1 14,20M900,860v-22a20,20 0 0 1 40,0v22z"/>
<rect x="272" y="805" width="76" height="50" stroke-dasharray="6 3"/><path d="M275,805L350,855M348,805L278,855"/>
</g>
<polygon points="525,1030 645,975 645,1082" fill="#ddd"/>
<polygon points="555,1030 625,998 625,1060" fill="#222"/>
<path d="M570,1025l40,-15M575,1040l45,-20M610,1000l25,60" stroke="#ddd" stroke-width="5"/>
<text transform="translate(1182,1062) rotate(-90)" font-size="82" font-weight="700" font-style="italic" fill="#e4e4e4" textLength="328" lengthAdjust="spacingAndGlyphs">ALINX</text>
<text transform="translate(1078,1325) rotate(-90)" font-size="26" fill="#bbb" textLength="180" lengthAdjust="spacingAndGlyphs">FH1219 V1.0</text>
<text transform="translate(1066,905) rotate(-90)" font-size="30" fill="#999" textLength="115" lengthAdjust="spacingAndGlyphs">2237</text>
<rect x="838" y="968" width="62" height="42" fill="#222" stroke="#ddd" stroke-width="3"/>
<rect x="948" y="932" width="70" height="40" fill="#222" stroke="#ddd" stroke-width="3"/>
<use href="#p" x="920" y="990"/><use href="#p" x="1048" y="945"/>
<use href="#p" x="965" y="995"/><use href="#p" x="985" y="995"/><use href="#p" x="1005" y="995"/><use href="#p" x="1025" y="995"/><use href="#p" x="1048" y="1003"/><use href="#p" x="1065" y="1003"/>
<use href="#p" x="955" y="1025"/><use href="#p" x="978" y="1025"/><use href="#p" x="1000" y="1025"/>
<use href="#p" x="855" y="1035"/><use href="#p" x="880" y="1035"/><use href="#p" x="915" y="1035"/>
<use href="#p" x="835" y="1065"/><use href="#p" x="860" y="1065"/><use href="#p" x="885" y="1065"/>
<rect x="905" y="1062" width="36" height="30" fill="#c7a27c" stroke="#ddd" stroke-width="3"/>
<use href="#p" x="242" y="1160"/><use href="#p" x="262" y="1185"/><use href="#p" x="225" y="1222"/><use href="#p" x="225" y="1270"/><use href="#p" x="248" y="1292"/><use href="#p" x="265" y="1230"/><use href="#p" x="285" y="1250"/><use href="#p" x="306" y="1265"/><use href="#p" x="332" y="1288"/>
<use href="#p" x="412" y="1248"/><use href="#p" x="648" y="1258"/><use href="#p" x="670" y="1258"/>
</g>
</svg>
</body>
</html>
